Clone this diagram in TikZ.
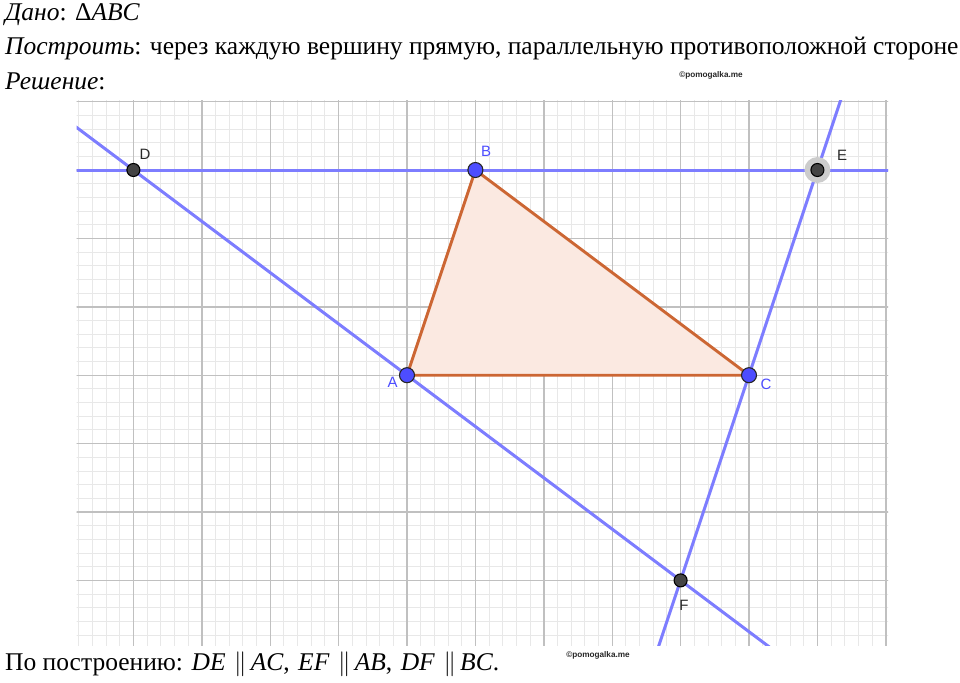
\documentclass[tikz,border=0pt]{standalone}
\usepackage{fontspec}
\setmainfont{Liberation Serif}
\newfontfamily\lblfont{Liberation Sans}
\usetikzlibrary{calc}
\definecolor{gline}{RGB}{125,125,255}
\definecolor{tri}{RGB}{204,102,51}
\definecolor{trifill}{RGB}{251,233,225}
\definecolor{ptblue}{RGB}{77,77,255}
\definecolor{ptgray}{RGB}{68,68,68}
\definecolor{gmajor}{RGB}{192,192,192}
\definecolor{gminor}{RGB}{232,232,232}
\definecolor{lblgray}{RGB}{40,40,40}
\begin{document}
\begin{tikzpicture}[x=1pt,y=-1pt,
  maintext/.style={anchor=base west, inner sep=0pt, font=\fontsize{25.5}{30}\selectfont},
  minorline/.style={draw=gminor, line width=0.9pt},
  majorline/.style={draw=gmajor, line width=1.4pt},
  geoline/.style={draw=gline, line width=3pt},
  triside/.style={draw=tri, fill=trifill, line width=2.9pt, line join=round},
  ptb/.style={circle, draw=black!85, fill=ptblue, line width=1.1pt, minimum size=15pt, inner sep=0pt},
  ptg/.style={circle, draw=black, fill=ptgray, line width=1.1pt, minimum size=13pt, inner sep=0pt},
  halo/.style={circle, fill=black!20, minimum size=26pt, inner sep=0pt},
  lblb/.style={text=ptblue, font=\lblfont\fontsize{15}{15}\selectfont, inner sep=0pt},
  lblg/.style={text=lblgray, font=\lblfont\fontsize{15}{15}\selectfont, inner sep=0pt},
  wmark/.style={font=\lblfont\bfseries\fontsize{8.2}{9}\selectfont, inner sep=0pt, text=black!85}
]
\useasboundingbox (0,0) rectangle (960,682);
% grid
\begin{scope}
  \clip (76.7,100.5) rectangle (888.2,645);
  \foreach \i in {-25,...,35} \draw[minorline] ({407+13.68*\i},90) -- ({407+13.68*\i},660);
  \foreach \j in {-21,...,20} \draw[minorline] (60,{375.2+13.68*\j}) -- (900,{375.2+13.68*\j});
  \foreach \i in {-5,...,7} \draw[majorline] ({407+68.4*\i},90) -- ({407+68.4*\i},660);
  \foreach \j in {-5,...,4} \draw[majorline] (60,{375.2+68.4*\j}) -- (900,{375.2+68.4*\j});
\end{scope}
% points
\coordinate (A) at (407,375.2);
\coordinate (B) at (475.4,170);
\coordinate (C) at (749,375.2);
\coordinate (D) at (133.4,170);
\coordinate (E) at (817.4,170);
\coordinate (F) at (680.6,580.4);
% triangle
\filldraw[triside] (A) -- (B) -- (C) -- cycle;
% parallel lines
\begin{scope}
  \clip (76.7,100.5) rectangle (888.2,645);
  \draw[geoline] ($(D)!-1!(E)$) -- ($(E)!-1!(D)$);
  \draw[geoline] ($(D)!-0.5!(F)$) -- ($(F)!-0.5!(D)$);
  \draw[geoline] ($(E)!-0.5!(F)$) -- ($(F)!-0.5!(E)$);
\end{scope}
% point markers
\node[halo] (Eh) at (E) {};
\node[ptb] (pA) at (A) {};
\node[ptb] (pB) at (B) {};
\node[ptb] (pC) at (C) {};
\node[ptg] (pD) at (D) {};
\node[ptg] (pE) at (E) {};
\node[ptg] (pF) at (F) {};
% labels
\node[lblb] (lA) at (392.5,382.5) {A};
\node[lblb] (lB) at (486,151) {B};
\node[lblb] (lC) at (766,384) {C};
\node[lblg] (lD) at (145,154) {D};
\node[lblg] (lE) at (842,155) {E};
\node[lblg] (lF) at (684,605) {F};
% watermarks
\node[wmark] (w1) at (711,75) {©pomogalka.me};
\node[wmark] (w2) at (598,655) {©pomogalka.me};
% texts
\node[maintext] (t1) at (5,21) {\textit{Дано}: Δ\textit{ABC}};
\node[maintext] (t2) at (5,55) {\textit{Построить}: через каждую вершину прямую, параллельную противоположной стороне};
\node[maintext] (t3) at (5,90) {\textit{Решение}:};
\node[maintext] (t4) at (5,670) {По построению: \textit{DE}\,\,$\parallel$\,\textit{AC},\,\,\textit{EF}\,\,$\parallel$\,\textit{AB},\,\,\textit{DF}\,\,$\parallel$\,\textit{BC}.};
\end{tikzpicture}
\end{document}
